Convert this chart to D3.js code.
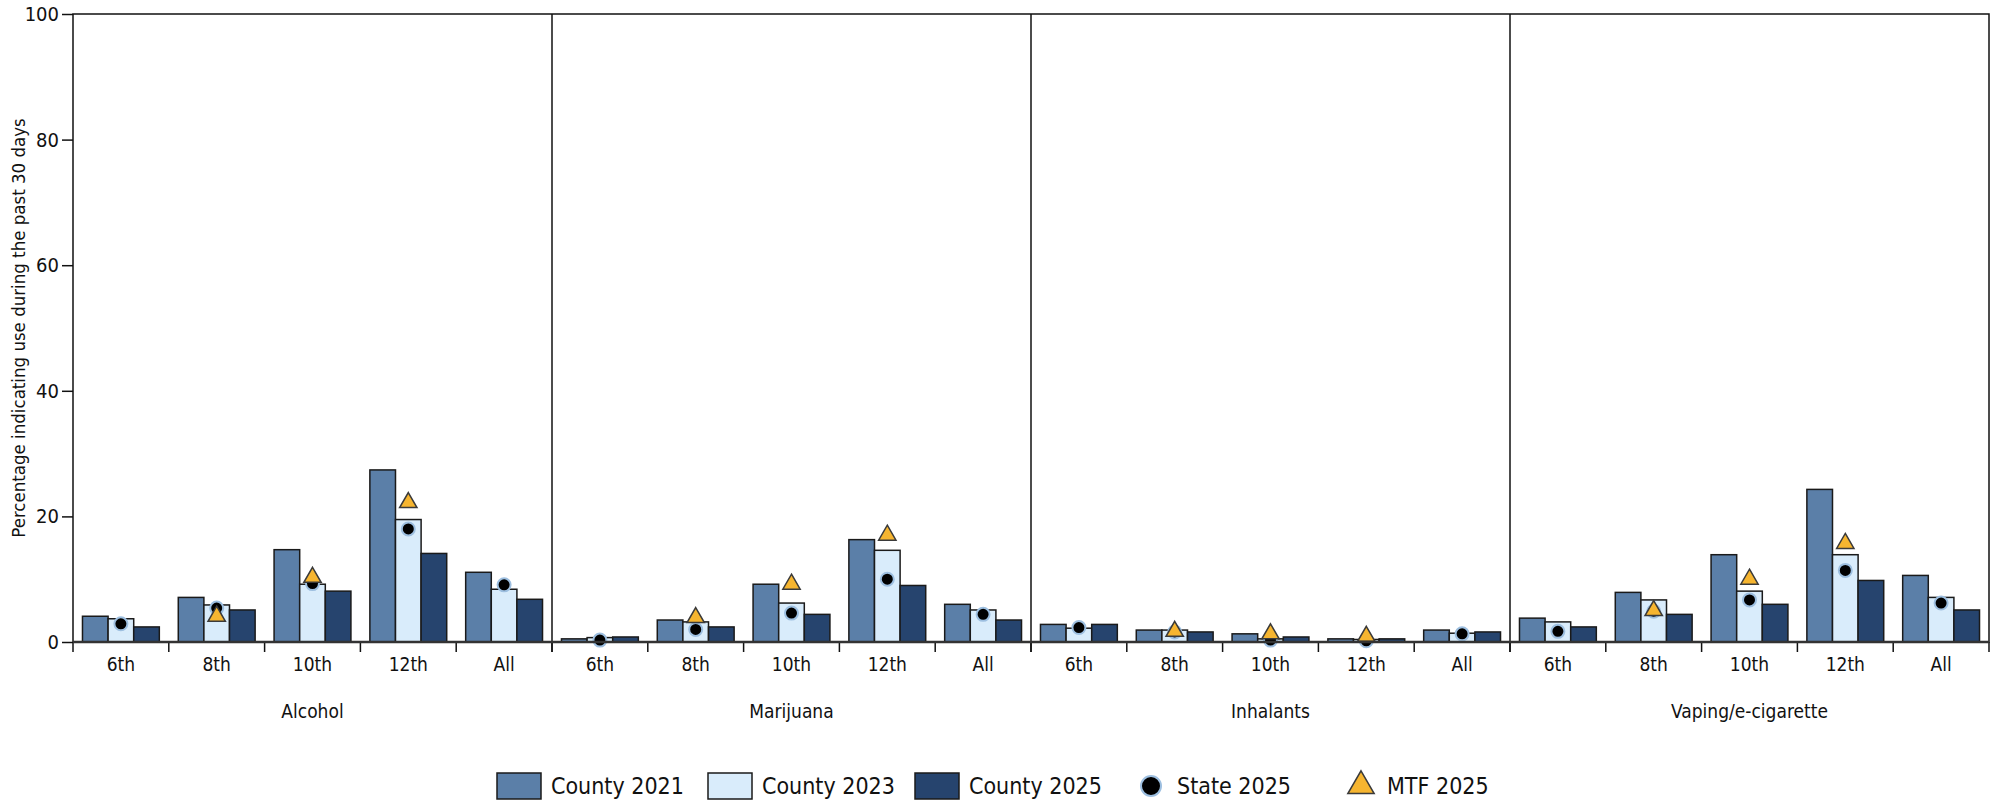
<!DOCTYPE html>
<html>
<head>
<meta charset="utf-8">
<script src="https://cdn.jsdelivr.net/npm/d3@7"></script>
<style>
  body { margin: 0; background: #fff; }
  svg text { font-family: "Liberation Sans Narrow", "DejaVu Sans Condensed", "Arial Narrow", sans-serif; fill: #111; }
</style>
</head>
<body>
<script>
const substances = ['Alcohol', 'Marijuana', 'Inhalants', 'Vaping/e-cigarette'];
const grades = ['6th', '8th', '10th', '12th', 'All'];
const seriesNames = ['County 2021', 'County 2023', 'County 2025'];

// one row per substance, one value per grade
const county2021 = [
  [4.1, 7.1, 14.7, 27.4, 11.1],
  [0.5, 3.5, 9.2, 16.3, 6.0],
  [2.8, 1.9, 1.3, 0.5, 1.9],
  [3.8, 7.9, 13.9, 24.3, 10.6]
];
const county2023 = [
  [3.7, 5.9, 9.2, 19.5, 8.4],
  [0.7, 3.2, 6.2, 14.6, 5.1],
  [2.2, 1.9, 0.5, 0.4, 1.4],
  [3.2, 6.7, 8.1, 13.9, 7.1]
];
const county2025 = [
  [2.4, 5.1, 8.1, 14.1, 6.8],
  [0.8, 2.4, 4.4, 9.0, 3.5],
  [2.8, 1.6, 0.8, 0.5, 1.6],
  [2.4, 4.4, 6.0, 9.8, 5.1]
];
const state2025 = [
  [2.9, 5.4, 9.3, 18.0, 9.1],
  [0.3, 2.0, 4.6, 10.0, 4.4],
  [2.3, 1.6, 0.3, 0.2, 1.3],
  [1.7, 4.9, 6.7, 11.4, 6.2]
];
const mtf2025 = [
  [null, 4.1, 10.3, 22.2, null],
  [null, 3.9, 9.2, 17.0, null],
  [null, 1.7, 1.3, 0.9, null],
  [null, 5.0, 10.0, 15.7, null]
];
const yTicks = [0, 20, 40, 60, 80, 100];

const W = 1999, H = 801;
const m = { left: 73, right: 10, top: 14, bottom: 159 };
const colors = ['#5b7fa8', '#d9ecfb', '#26446e'];

const svg = d3.select('body').append('svg')
  .attr('width', W)
  .attr('height', H);

const y = d3.scaleLinear().domain([0, 100]).range([H - m.bottom, m.top]);
const xPanel = d3.scaleBand().domain(substances).range([m.left, W - m.right]).padding(0);
const xGrade = d3.scaleBand().domain(grades).range([0, xPanel.bandwidth()]).padding(0);
const xBar = d3.scaleBand().domain(seriesNames).range([0, xGrade.bandwidth()])
  .paddingInner(0).paddingOuter(0.37);

const allSeries = [county2021, county2023, county2025];

// y axis
const yAxis = svg.append('g')
  .attr('transform', `translate(${m.left},0)`)
  .call(d3.axisLeft(y).tickValues(yTicks).tickSize(11).tickPadding(3));
yAxis.select('.domain').remove();
yAxis.selectAll('line').attr('stroke', '#111').attr('stroke-width', 1.5);
yAxis.selectAll('text').style('font-size', '20px');

svg.append('text')
  .attr('transform', `translate(25,${(y(0) + y(100)) / 2}) rotate(-90)`)
  .attr('text-anchor', 'middle')
  .style('font-size', '18.5px')
  .text('Percentage indicating use during the past 30 days');

substances.forEach((sub, si) => {
  const g = svg.append('g').attr('transform', `translate(${xPanel(sub)},0)`);

  grades.forEach((gr, gi) => {
    const cg = g.append('g').attr('transform', `translate(${xGrade(gr)},0)`);
    cg.selectAll('rect')
      .data(seriesNames.map((s, k) => ({ s, v: allSeries[k][si][gi], k })))
      .enter().append('rect')
      .attr('x', d => xBar(d.s))
      .attr('y', d => y(d.v))
      .attr('width', xBar.bandwidth())
      .attr('height', d => y(0) - y(d.v))
      .attr('fill', d => colors[d.k])
      .attr('stroke', '#1a1a1a')
      .attr('stroke-width', 1.5);

    const cx = xBar('County 2023') + xBar.bandwidth() / 2;
    const sv = state2025[si][gi];
    if (sv != null) {
      cg.append('circle')
        .attr('cx', cx).attr('cy', y(sv)).attr('r', 6.5)
        .attr('fill', '#000')
        .attr('stroke', '#9dbfe0').attr('stroke-width', 2);
    }
    const mv = mtf2025[si][gi];
    if (mv != null) {
      cg.append('path')
        .attr('d', d3.symbol(d3.symbolTriangle, 130)())
        .attr('transform', `translate(${cx},${y(mv)})`)
        .attr('fill', '#f6b530')
        .attr('stroke', '#3a3a3a').attr('stroke-width', 1.5);
    }
  });

  // grade labels
  const xa = g.append('g')
    .attr('transform', `translate(0,${y(0)})`)
    .call(d3.axisBottom(xGrade).tickSize(0).tickPadding(16));
  xa.select('.domain').remove();
  xa.selectAll('text').style('font-size', '19px');

  // boundary ticks
  g.selectAll('line.bt')
    .data(grades.map(gr => xGrade(gr)).concat([xPanel.bandwidth()]))
    .enter().append('line')
    .attr('x1', d => d).attr('x2', d => d)
    .attr('y1', y(0)).attr('y2', y(0) + 10)
    .attr('stroke', '#111').attr('stroke-width', 1.5);

  g.append('text')
    .attr('x', xPanel.bandwidth() / 2)
    .attr('y', y(0) + 76)
    .attr('text-anchor', 'middle')
    .style('font-size', '19px')
    .text(sub);

  // panel divider
  if (si > 0) {
    g.append('line')
      .attr('x1', 0).attr('x2', 0)
      .attr('y1', y(100)).attr('y2', y(0))
      .attr('stroke', '#111').attr('stroke-width', 1.5);
  }
});

// frame
svg.append('rect')
  .attr('x', m.left).attr('y', y(100))
  .attr('width', W - m.right - m.left).attr('height', y(0) - y(100))
  .attr('fill', 'none').attr('stroke', '#111').attr('stroke-width', 1.5);
svg.append('line')
  .attr('x1', m.left).attr('x2', W - m.right)
  .attr('y1', y(0)).attr('y2', y(0))
  .attr('stroke', '#333').attr('stroke-width', 2.5);

// legend
const legendItems = [
  { label: 'County 2021', type: 'rect', color: colors[0], x: 497 },
  { label: 'County 2023', type: 'rect', color: colors[1], x: 708 },
  { label: 'County 2025', type: 'rect', color: colors[2], x: 915 },
  { label: 'State 2025', type: 'circle', x: 1133 },
  { label: 'MTF 2025', type: 'tri', x: 1343 }
];
const ly = 786;
const lg = svg.append('g');
legendItems.forEach(d => {
  const it = lg.append('g').attr('transform', `translate(${d.x},${ly})`);
  if (d.type === 'rect') {
    it.append('rect').attr('x', 0).attr('y', -13).attr('width', 44).attr('height', 26)
      .attr('fill', d.color).attr('stroke', '#1a1a1a').attr('stroke-width', 1.5);
  } else if (d.type === 'circle') {
    it.append('circle').attr('cx', 18).attr('cy', 0).attr('r', 10)
      .attr('fill', '#000').attr('stroke', '#9dbfe0').attr('stroke-width', 2);
  } else {
    it.append('path').attr('d', d3.symbol(d3.symbolTriangle, 300)())
      .attr('transform', 'translate(18,0)')
      .attr('fill', '#f6b530').attr('stroke', '#3a3a3a').attr('stroke-width', 1.5);
  }
  it.append('text')
    .attr('x', d.type === 'rect' ? 54 : 44)
    .attr('y', 0)
    .attr('dy', '0.35em')
    .style('font-size', '23px')
    .text(d.label);
});
</script>
</body>
</html>
